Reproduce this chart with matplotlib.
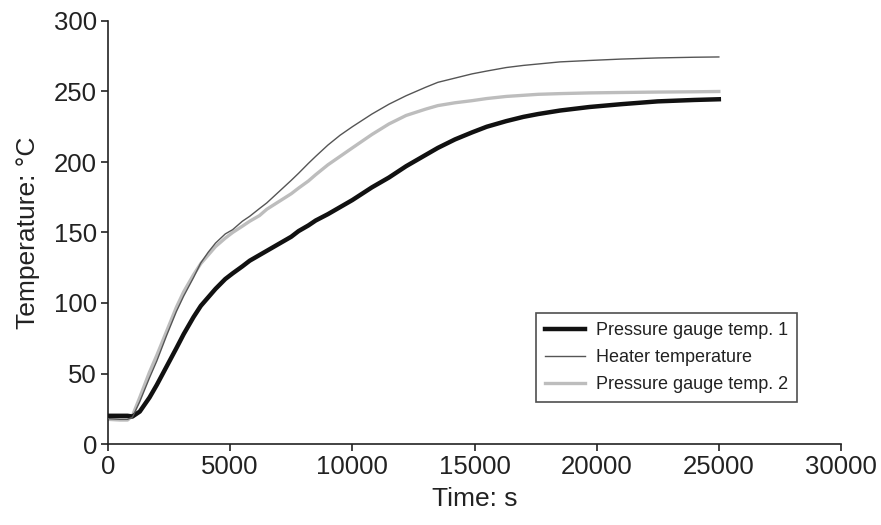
import matplotlib
matplotlib.use("Agg")
import matplotlib.pyplot as plt

time_s = [0, 500, 800, 1000, 1300, 1700, 2000, 2400, 2800, 3100, 3500, 3800, 4100, 4400,
          4800, 5100, 5500, 5800, 6200, 6500, 7000, 7500, 7800, 8200, 8500, 9000, 9500,
          10000, 10800, 11500, 12200, 13000, 13500, 14200, 14900, 15500, 16300, 17000,
          17600, 18500, 19700, 21000, 22500, 24000, 25000]

gauge1 = [20, 20, 20, 19.5, 23, 33, 42, 55, 68, 78, 90, 98, 104, 110,
          117, 121, 126, 130, 134, 137, 142, 147, 151, 155, 158.5, 163, 168,
          173, 182, 189, 197, 205, 210, 216, 221, 225, 229, 232,
          234, 236.5, 239, 241, 243, 244, 244.5]

heater = [18, 17.5, 17.5, 19, 30, 47, 59, 77, 94, 105, 118, 128.5, 136, 142.5,
          149, 152, 158, 161.5, 167, 171, 179, 187, 192, 199, 204, 212, 219,
          225, 234, 241, 247, 253, 256.5, 259.5, 262.5, 264.5, 267, 268.5,
          269.5, 271, 272, 273, 273.8, 274.3, 274.5]

gauge2 = [17.5, 17, 17, 20, 33, 51, 63, 80, 97, 108, 120, 128, 134, 140,
          146, 150, 154.5, 158, 162, 166.5, 172, 177.5, 181.5, 186.5, 191, 198, 204,
          210, 219.5, 227, 233, 237.5, 240, 242, 243.5, 245, 246.5, 247.3,
          248, 248.5, 249, 249.3, 249.6, 249.8, 250]

series_labels = ["Pressure gauge temp. 1", "Heater temperature", "Pressure gauge temp. 2"]
x_ticks = [0, 5000, 10000, 15000, 20000, 25000, 30000]
y_ticks = [0, 50, 100, 150, 200, 250, 300]

plt.rcParams['font.family'] = ['Liberation Sans', 'DejaVu Sans']
txt = '#222222'

fig = plt.figure(figsize=(8.81, 5.25), dpi=100)
ax = fig.add_axes([108 / 881, 1 - 444 / 525, 733 / 881, 423 / 525])

ax.plot(time_s, gauge1, color='#111111', lw=3.2, label=series_labels[0], zorder=3)
ax.plot(time_s, heater, color='#555555', lw=1.0, label=series_labels[1], zorder=4)
ax.plot(time_s, gauge2, color='#bdbdbd', lw=2.4, label=series_labels[2], zorder=2)

ax.set_xlim(0, 30000)
ax.set_ylim(0, 300)
ax.set_xticks(x_ticks)
ax.set_yticks(y_ticks)
for s in ['top', 'right']:
    ax.spines[s].set_visible(False)
for s in ['left', 'bottom']:
    ax.spines[s].set_linewidth(1.2)
    ax.spines[s].set_color('#222222')
ax.tick_params(direction='out', length=5, width=1.2, labelsize=18.5, colors='#222222',
               labelcolor=txt, pad=3)
ax.set_xlabel("Time: s", fontsize=19, color=txt, labelpad=6)
ax.set_ylabel("Temperature: °C", fontsize=19, color=txt, labelpad=10)

leg = ax.legend(loc='lower right', bbox_to_anchor=(0.94, 0.099), fontsize=13,
                frameon=True, fancybox=False, edgecolor='#222222', handlelength=2.2,
                borderpad=0.5, labelspacing=0.55, handletextpad=0.6, borderaxespad=0)
leg.get_frame().set_linewidth(1.2)
for t in leg.get_texts():
    t.set_color(txt)

fig.savefig("out.png", dpi=100)
